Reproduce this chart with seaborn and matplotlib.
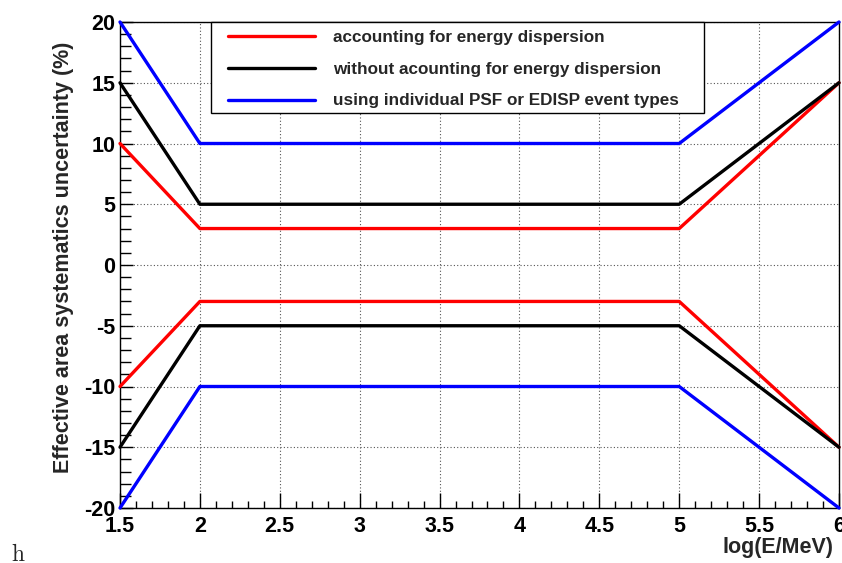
import pandas as pd
import matplotlib
matplotlib.use('Agg')
import matplotlib.pyplot as plt
from matplotlib.ticker import MultipleLocator
from matplotlib.lines import Line2D
from matplotlib.patches import Rectangle
import seaborn as sns

# Data
log_e = [1.5, 2, 5, 6]
red_upper = [10, 3, 3, 15]
red_lower = [-10, -3, -3, -15]
black_upper = [15, 5, 5, 15]
black_lower = [-15, -5, -5, -15]
blue_upper = [20, 10, 10, 20]
blue_lower = [-20, -10, -10, -20]
series_names = ['accounting for energy dispersion',
                'without acounting for energy dispersion',
                'using individual PSF or EDISP event types']
colors = ['#ff0000', '#000000', '#0000ff']

# Long-form table for seaborn
rows = []
for name, up, lo in zip(series_names,
                        [red_upper, black_upper, blue_upper],
                        [red_lower, black_lower, blue_lower]):
    for x, y in zip(log_e, up):
        rows.append({'x': x, 'y': y, 'series': name, 'branch': 'upper'})
    for x, y in zip(log_e, lo):
        rows.append({'x': x, 'y': y, 'series': name, 'branch': 'lower'})
df = pd.DataFrame(rows)

sns.set_theme(style='white')
plt.rcParams['font.family'] = ['Liberation Sans', 'DejaVu Sans']
plt.rcParams['font.weight'] = 'bold'
plt.rcParams['axes.labelweight'] = 'bold'
plt.rcParams['axes.unicode_minus'] = False

fig = plt.figure(figsize=(8.42, 5.63), dpi=100)
ax = fig.add_axes([120 / 842, 1 - 508 / 563, 719 / 842, 486 / 563])

sns.lineplot(data=df, x='x', y='y', hue='series', units='branch',
             estimator=None, sort=False, palette=dict(zip(series_names, colors)),
             linewidth=2.4, legend=False, ax=ax, clip_on=False, zorder=3)

ax.set_xlim(1.5, 6)
ax.set_ylim(-20, 20)
ax.xaxis.set_major_locator(MultipleLocator(0.5))
ax.xaxis.set_minor_locator(MultipleLocator(0.1))
ax.yaxis.set_major_locator(MultipleLocator(5))
ax.yaxis.set_minor_locator(MultipleLocator(1))
ax.xaxis.set_major_formatter(plt.FuncFormatter(lambda v, p: f'{v:g}'))

ax.grid(True, which='major', linestyle=(0, (1, 2)), color='#555555', linewidth=0.8)
ax.set_axisbelow(True)

for s in ax.spines.values():
    s.set_color('black')
    s.set_linewidth(1.0)

ax.tick_params(which='both', direction='in', bottom=True, left=True,
               top=False, right=False, colors='black', width=1, labelsize=15.5)
ax.tick_params(axis='x', which='major', length=11, pad=6)
ax.tick_params(axis='x', which='minor', length=5)
ax.tick_params(axis='y', which='major', length=9, pad=3.5)
ax.tick_params(axis='y', which='minor', length=8)

ax.set_xlabel('log(E/MeV)', fontsize=15.5)
ax.xaxis.set_label_coords((833 - 120) / 719, (508 - 547) / 486)
ax.xaxis.label.set_ha('right')
ax.xaxis.label.set_va('center')

ax.set_ylabel('Effective area systematics uncertainty (%)', fontsize=15.5)
ax.yaxis.set_label_coords((64 - 120) / 719, (508 - 257) / 486)
ax.yaxis.label.set_va('center')

# legend box (opaque, square corners)
ax.add_patch(Rectangle(((211 - 120) / 719, (508 - 113) / 486),
                       (704 - 211) / 719, (113 - 22) / 486,
                       transform=ax.transAxes, facecolor='white',
                       edgecolor='black', linewidth=1.0, zorder=4,
                       clip_on=False))
handles = [Line2D([], [], color=c, linewidth=2.4) for c in colors]
leg = ax.legend(handles, series_names, loc='upper left',
                bbox_to_anchor=((228 - 120) / 719, (508 - 30) / 486),
                frameon=False, prop={'weight': 'bold', 'size': 12.3},
                handlelength=5.1, handletextpad=1.06, labelspacing=0.98,
                borderpad=0, borderaxespad=0)
leg.set_zorder(5)

# stray glyph in the lower left corner of the original
fig.text(11 / 842, 1 - 543 / 563, r'$\mathrm{h}$', fontsize=17,
         math_fontfamily='cm', va='top', ha='left')

fig.savefig('out.png', dpi=100)
